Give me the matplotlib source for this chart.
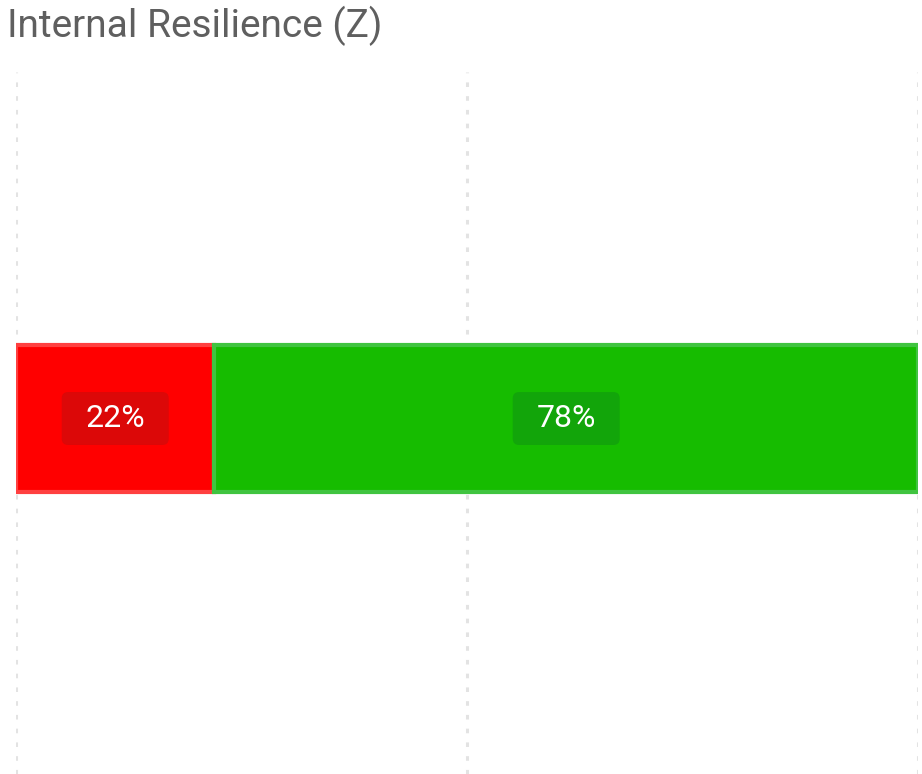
import matplotlib.pyplot as plt
from matplotlib.patches import FancyBboxPatch

# chart data
categories = ["Internal Resilience (Z)"]
segment_labels = ["Low", "High"]
segment_values = [22, 78]
segment_colors = ["#FF0000", "#16BC00"]
edge_colors = ["#FF4040", "#40C440"]
badge_colors = ["#DC0808", "#12A50A"]
x_ticks = [0, 50, 100]

plt.rcParams["font.family"] = ["Roboto", "DejaVu Sans"]

W, H = 922, 774
fig = plt.figure(figsize=(W / 100, H / 100), dpi=100)
ax = fig.add_axes([16 / W, 0, (918 - 16) / W, (H - 72) / H])

left = 0
for val, col, ec, bc in zip(segment_values, segment_colors, edge_colors, badge_colors):
    ax.barh(0, val, left=left, height=1, color=col, edgecolor=ec,
            linewidth=3, zorder=3)
    cx = left + val / 2
    # rounded darker badge behind label
    bw, bh = 107 / 902 * 100, 0.36
    badge = FancyBboxPatch((cx - bw / 2, -bh / 2), bw, bh,
                           boxstyle="round,pad=0,rounding_size=0.7",
                           mutation_aspect=0.0614,
                           facecolor=bc, edgecolor="none", zorder=4)
    ax.add_patch(badge)
    ax.text(cx, 0, f"{val}%", ha="center", va="center", color="white",
            fontsize=23, zorder=5)
    left += val

ax.set_xlim(0, 100)
ax.set_ylim(-2.418, 2.357)
ax.set_xticks(x_ticks)
ax.set_yticks([])
ax.tick_params(length=0, labelbottom=False)
ax.grid(axis="x", color="#E3E3E3", linestyle=(0, (1.5, 3)), linewidth=2.2, zorder=0)
for s in ax.spines.values():
    s.set_visible(False)

fig.text(7 / W, 1 - 6 / H, categories[0], ha="left", va="top",
         fontsize=28, color="#5F5F5F")

fig.savefig("out.png", dpi=100)
